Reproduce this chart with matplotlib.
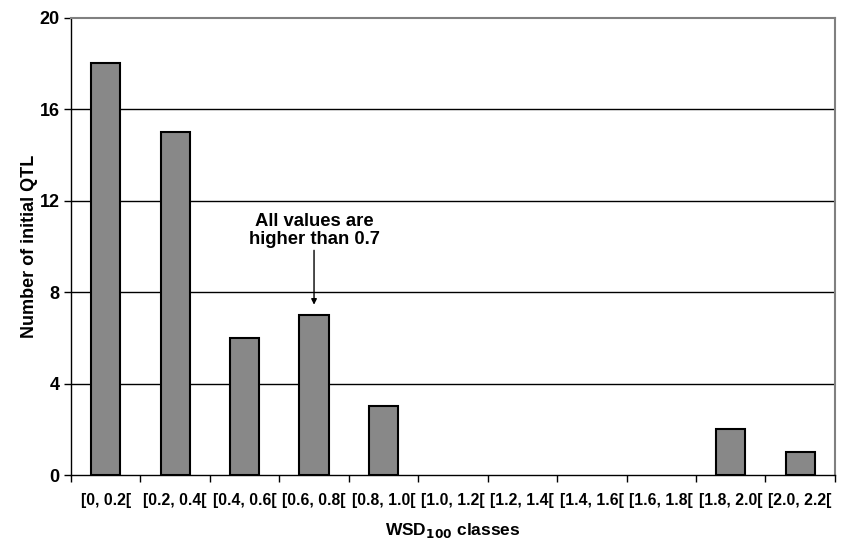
import matplotlib.pyplot as plt
import numpy as np

plt.rcParams['font.family'] = ['Liberation Sans', 'DejaVu Sans']
plt.rcParams['font.weight'] = 'bold'

classes = ["[0, 0.2[", "[0.2, 0.4[", "[0.4, 0.6[", "[0.6, 0.8[", "[0.8, 1.0[",
           "[1.0, 1.2[", "[1.2, 1.4[", "[1.4, 1.6[", "[1.6, 1.8[", "[1.8, 2.0[",
           "[2.0, 2.2["]
counts = [18, 15, 6, 7, 3, 0, 0, 0, 0, 2, 1]
y_ticks = [0, 4, 8, 12, 16, 20]

fig = plt.figure(figsize=(8.45, 5.38), dpi=100)
ax = fig.add_axes([0.084, 0.117, 0.904, 0.85])

x = np.arange(len(classes))
# empty classes get no outline
edge_w = [1.5 if c > 0 else 0 for c in counts]
ax.bar(x, counts, width=0.42, color='#888888', edgecolor='black', linewidth=edge_w, zorder=3)

ax.set_xlim(-0.5, len(classes) - 0.5)
ax.set_ylim(0, 20)
ax.set_yticks(y_ticks)
ax.set_yticklabels([str(v) for v in y_ticks], fontsize=13, fontweight='bold')
for v in y_ticks[1:-1]:
    ax.axhline(v, color='black', linewidth=1, zorder=1)

# category labels sit under the bars, tick marks between categories
ax.set_xticks(x)
ax.set_xticklabels(classes, fontsize=11.3, fontweight='bold')
ax.tick_params(axis='x', length=0, pad=13)
ax.set_xticks(np.arange(len(classes) + 1) - 0.5, minor=True)
ax.tick_params(axis='x', which='minor', length=5, width=1, direction='out')
ax.tick_params(axis='y', length=5, width=1, direction='out', pad=3)

for side in ['top', 'right']:
    ax.spines[side].set_color('#808080')
    ax.spines[side].set_linewidth(1.5)
ax.spines['left'].set_linewidth(1)
ax.spines['bottom'].set_linewidth(1)

ax.set_ylabel("Number of initial QTL", fontsize=13, fontweight='bold', labelpad=1)
ax.set_xlabel("WSD$_\\mathbf{100}$ classes", fontsize=12.5, fontweight='bold', labelpad=9)

ax.annotate("All values are\nhigher than 0.7", xy=(3, 7.45), xytext=(3, 9.95),
            ha='center', va='bottom', fontsize=13.3, fontweight='bold', linespacing=1.05,
            arrowprops=dict(arrowstyle='-|>', color='black', lw=1, mutation_scale=8,
                            shrinkA=0, shrinkB=0))

fig.savefig("out.png", dpi=100)
